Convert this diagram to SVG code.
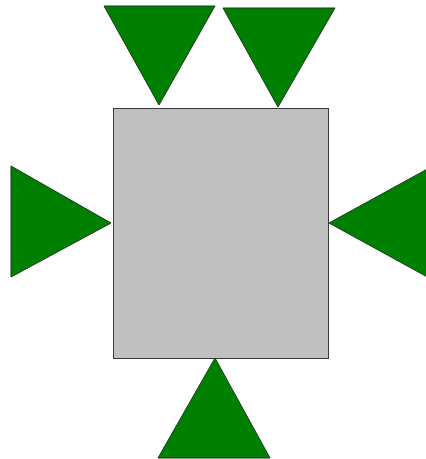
<svg xmlns="http://www.w3.org/2000/svg" width="426" height="459" viewBox="0 0 426 459">
<style>
.tri{fill:#008000;stroke:#1a3a1a;stroke-width:1;stroke-linejoin:miter}
.box{fill:#c0c0c0;stroke:#3a3a3a;stroke-width:1}
</style>
<rect width="426" height="459" fill="#fff"/>
<g id="box"><rect class="box" x="113.5" y="108.5" width="215" height="250"/></g>
<g id="top-left"><polygon class="tri" points="104,6 215,6 159,105"/></g>
<g id="top-right"><polygon class="tri" points="223,8 335,8 278,107"/></g>
<g id="left"><polygon class="tri" points="11,166 111,223 11,277"/></g>
<g id="right"><polygon class="tri" points="329,223 431,167 431,279"/></g>
<g id="bottom"><polygon class="tri" points="215,358 270,458 158,458"/></g>
<g id="connectors"></g>
</svg>
